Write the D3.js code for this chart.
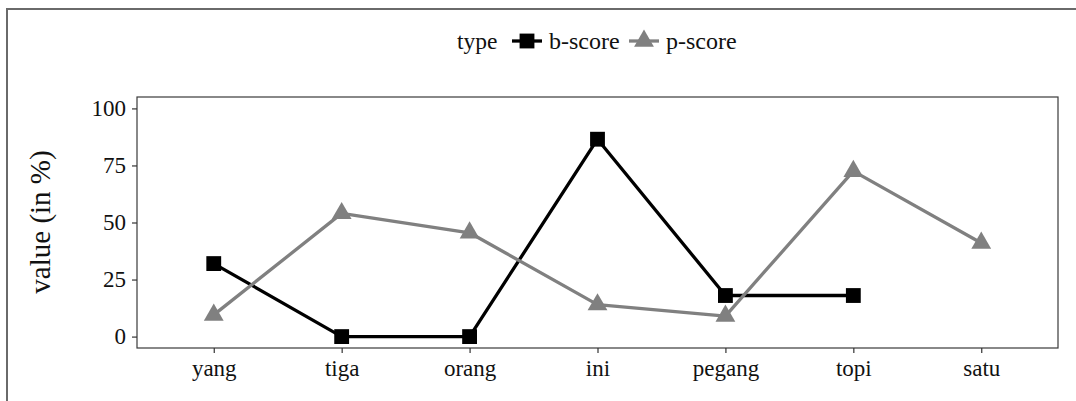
<!DOCTYPE html>
<html>
<head>
<meta charset="utf-8">
<script src="https://cdn.jsdelivr.net/npm/d3@7"></script>
<style>
  html, body { margin: 0; padding: 0; background: #fff; }
  svg { display: block; font-family: "Liberation Serif", "Times New Roman", serif; }
</style>
</head>
<body>
<svg id="chart" width="1076" height="401"></svg>
<script>
const categories = ["yang", "tiga", "orang", "ini", "pegang", "topi", "satu"];
const bScore = [32, 0, 0, 86.5, 18, 18, null];
const pScore = [9.5, 54, 45.5, 14, 9, 72.5, 41];
const yTicks = [0, 25, 50, 75, 100];
const seriesNames = ["b-score", "p-score"];
const legendTitle = "type";
const yTitle = "value (in %)";

const svg = d3.select("#chart");
const panel = { left: 137, right: 1058, top: 97, bottom: 348 };

const x = d3.scalePoint().domain(categories).range([panel.left, panel.right]).padding(0.6);
const y = d3.scaleLinear().domain([-5, 105]).range([panel.bottom, panel.top]);

// outer border (only top & left visible in crop)
svg.append("line").attr("x1", 7).attr("x2", 1076).attr("y1", 9).attr("y2", 9)
  .attr("stroke", "#6a6a6a").attr("stroke-width", 2);
svg.append("line").attr("x1", 7).attr("x2", 7).attr("y1", 8).attr("y2", 401)
  .attr("stroke", "#6a6a6a").attr("stroke-width", 2);

// panel border
svg.append("rect").attr("x", panel.left).attr("y", panel.top)
  .attr("width", panel.right - panel.left).attr("height", panel.bottom - panel.top)
  .attr("fill", "none").attr("stroke", "#3a3a3a").attr("stroke-width", 1.2);

// axes
const xAxis = d3.axisBottom(x).tickSize(5).tickPadding(5);
const gx = svg.append("g").attr("transform", `translate(0,${panel.bottom})`).call(xAxis);
gx.select(".domain").remove();
gx.selectAll(".tick line").attr("stroke", "#333").attr("stroke-width", 1.2);
gx.selectAll(".tick text").attr("fill", "#111").style("font-size", "23px")
  .style("font-family", "Liberation Serif, Times New Roman, serif").attr("dy", "0.78em");

const yAxis = d3.axisLeft(y).tickValues(yTicks).tickSize(5).tickPadding(6);
const gy = svg.append("g").attr("transform", `translate(${panel.left},0)`).call(yAxis);
gy.select(".domain").remove();
gy.selectAll(".tick line").attr("stroke", "#333").attr("stroke-width", 1.2);
gy.selectAll(".tick text").attr("fill", "#111").style("font-size", "23px")
  .style("font-family", "Liberation Serif, Times New Roman, serif");

// y title
svg.append("text")
  .attr("transform", `translate(50,222) rotate(-90)`)
  .attr("text-anchor", "middle")
  .style("font-size", "29px").attr("fill", "#111")
  .text(yTitle);

// data
const series = [
  { name: seriesNames[0], values: bScore, color: "#000000", shape: d3.symbolSquare, size: 220 },
  { name: seriesNames[1], values: pScore, color: "#808080", shape: d3.symbolTriangle, size: 170 }
];

const line = d3.line()
  .defined(d => d.v !== null)
  .x(d => x(d.c)).y(d => y(d.v));

series.forEach(s => {
  const pts = categories.map((c, i) => ({ c, v: s.values[i] }));
  svg.append("path").datum(pts).attr("d", line)
    .attr("fill", "none").attr("stroke", s.color).attr("stroke-width", 3.3)
    .attr("stroke-linejoin", "round");
});
series.forEach(s => {
  const pts = categories.map((c, i) => ({ c, v: s.values[i] })).filter(d => d.v !== null);
  svg.append("g").selectAll("path").data(pts).join("path")
    .attr("transform", d => `translate(${x(d.c)},${y(d.v)})`)
    .attr("d", d3.symbol().type(s.shape).size(s.size))
    .attr("fill", s.color);
});

// legend
const lg = svg.append("g");
lg.append("text").attr("x", 457).attr("y", 49).style("font-size", "23.5px").attr("fill", "#111").text(legendTitle);
const keyX = [512, 629];
const textX = [549, 666];
series.forEach((s, i) => {
  lg.append("line").attr("x1", keyX[i]).attr("x2", keyX[i] + 30).attr("y1", 41).attr("y2", 41)
    .attr("stroke", s.color).attr("stroke-width", 3.3);
  lg.append("path").attr("transform", `translate(${keyX[i] + 15},${41})`)
    .attr("d", d3.symbol().type(s.shape).size(s.size)).attr("fill", s.color);
  lg.append("text").attr("x", textX[i]).attr("y", 49).style("font-size", "24px").attr("fill", "#111").text(s.name);
});
</script>
</body>
</html>
